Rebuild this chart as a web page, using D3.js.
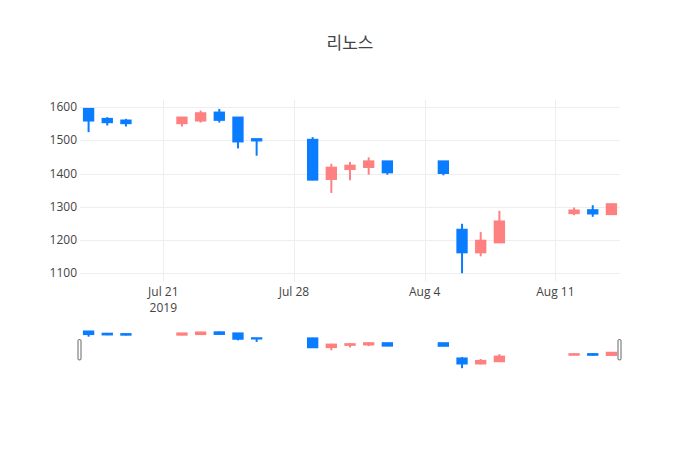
<!DOCTYPE html>
<html>
<head>
<meta charset="utf-8">
<script src="https://cdn.jsdelivr.net/npm/d3@7"></script>
<style>
  body { margin: 0; background: #fff; }
  text { font-family: "Open Sans", "Noto Sans CJK KR", sans-serif; fill: #444; }
</style>
</head>
<body>
<div id="chart"></div>
<script>
// 리노스 daily prices, Jul 17 - Aug 14 2019
var dates = ["2019-07-17","2019-07-18","2019-07-19",
  "2019-07-22","2019-07-23","2019-07-24","2019-07-25","2019-07-26",
  "2019-07-29","2019-07-30","2019-07-31","2019-08-01","2019-08-02",
  "2019-08-05","2019-08-06","2019-08-07","2019-08-08",
  "2019-08-12","2019-08-13","2019-08-14"];
var open  = [1595,1565,1560, 1552,1560,1584,1569,1504, 1502,1384,1414,1420,1437, 1437,1231,1163,1193, 1281,1290,1278];
var high  = [1597,1570,1565, 1569,1590,1595,1569,1505, 1510,1430,1435,1449,1437, 1437,1249,1224,1288, 1298,1305,1310];
var low   = [1525,1545,1542, 1542,1554,1554,1476,1454, 1380,1342,1380,1397,1397, 1395,1100,1151,1193, 1275,1270,1278];
var close = [1560,1555,1552, 1569,1582,1562,1497,1500, 1382,1418,1424,1437,1404, 1402,1163,1198,1256, 1289,1280,1308];

var upColor = "#ff8080", downColor = "#0a7cff";

var W = 700, H = 450;
var margin = {left: 80, right: 80, top: 100};
var plotBottom = 281.5, sliderTop = 329.5, sliderBottom = 370;

var parse = d3.utcParse("%Y-%m-%d");
var data = dates.map(function(d, i) {
  return {date: parse(d), o: open[i], h: high[i], l: low[i], c: close[i]};
});

var DAY = 864e5;
var x = d3.scaleUtc()
  .domain([new Date(data[0].date - 0.46 * DAY), new Date(+data[data.length - 1].date + 0.46 * DAY)])
  .range([margin.left, W - margin.right]);

var lo = d3.min(low), hi = d3.max(high), pad = (hi - lo) * 0.05;
var y = d3.scaleLinear().domain([lo - pad, hi + pad]).range([plotBottom, margin.top]);
var ys = d3.scaleLinear().domain(y.domain()).range([sliderBottom, sliderTop]);

var svg = d3.select("#chart").append("svg")
  .attr("width", W).attr("height", H);

// title
svg.append("text")
  .attr("x", W / 2).attr("y", 49)
  .attr("text-anchor", "middle")
  .style("font-size", "17px")
  .text("리노스");

// grid
var yTicks = [1100, 1200, 1300, 1400, 1500, 1600];
svg.append("g").selectAll("line").data(yTicks).enter().append("line")
  .attr("x1", margin.left).attr("x2", W - margin.right)
  .attr("y1", function(d) { return Math.round(y(d)) + 0.5; })
  .attr("y2", function(d) { return Math.round(y(d)) + 0.5; })
  .attr("stroke", "#eee").attr("stroke-width", 1);

var xTicks = x.ticks(d3.utcSunday);
svg.append("g").selectAll("line").data(xTicks).enter().append("line")
  .attr("x1", function(d) { return Math.round(x(d)) + 0.5; })
  .attr("x2", function(d) { return Math.round(x(d)) + 0.5; })
  .attr("y1", margin.top).attr("y2", plotBottom)
  .attr("stroke", "#eee").attr("stroke-width", 1);

// y labels
svg.append("g").selectAll("text").data(yTicks).enter().append("text")
  .attr("x", 77).attr("y", function(d) { return y(d) + 4; })
  .attr("text-anchor", "end")
  .style("font-size", "12px")
  .text(function(d) { return d; });

// x labels
var fmt = d3.utcFormat("%b %-d");
var xl = svg.append("g").selectAll("text").data(xTicks).enter().append("text")
  .attr("text-anchor", "middle")
  .style("font-size", "12px")
  .attr("x", function(d) { return x(d); })
  .attr("y", 296);
xl.append("tspan").text(function(d) { return fmt(d); });
xl.filter(function(d, i) { return i == 0; })
  .append("tspan")
  .attr("x", function(d) { return x(d); })
  .attr("dy", 16)
  .text(function(d) { return d3.utcFormat("%Y")(d); });

// candles
var bw = x(new Date(+data[0].date + DAY)) - x(data[0].date);
function drawCandles(g, ysc) {
  var c = g.selectAll("g").data(data).enter().append("g")
    .attr("stroke", function(d) { return d.c >= d.o ? upColor : downColor; })
    .attr("fill", function(d) { return d.c >= d.o ? upColor : downColor; })
    .attr("stroke-width", 2);
  c.append("line")
    .attr("x1", function(d) { return x(d.date); })
    .attr("x2", function(d) { return x(d.date); })
    .attr("y1", function(d) { return ysc(d.h); })
    .attr("y2", function(d) { return ysc(d.l); });
  c.append("rect")
    .attr("x", function(d) { return x(d.date) - bw * 0.25; })
    .attr("width", bw * 0.5)
    .attr("y", function(d) { return ysc(Math.max(d.o, d.c)); })
    .attr("height", function(d) { return Math.abs(ysc(d.o) - ysc(d.c)); });
}
drawCandles(svg.append("g"), y);

// range slider
var slider = svg.append("g");
drawCandles(slider.append("g"), ys);
var gh = (sliderBottom - sliderTop) / 2;
slider.selectAll(".grab").data(x.range()).enter().append("rect")
  .attr("class", "grab")
  .attr("x", function(d) { return d - 2; })
  .attr("y", sliderTop + gh / 2)
  .attr("width", 3).attr("height", gh)
  .attr("rx", 1)
  .attr("fill", "#fff").attr("stroke", "#666").attr("stroke-width", 1);
</script>
</body>
</html>
